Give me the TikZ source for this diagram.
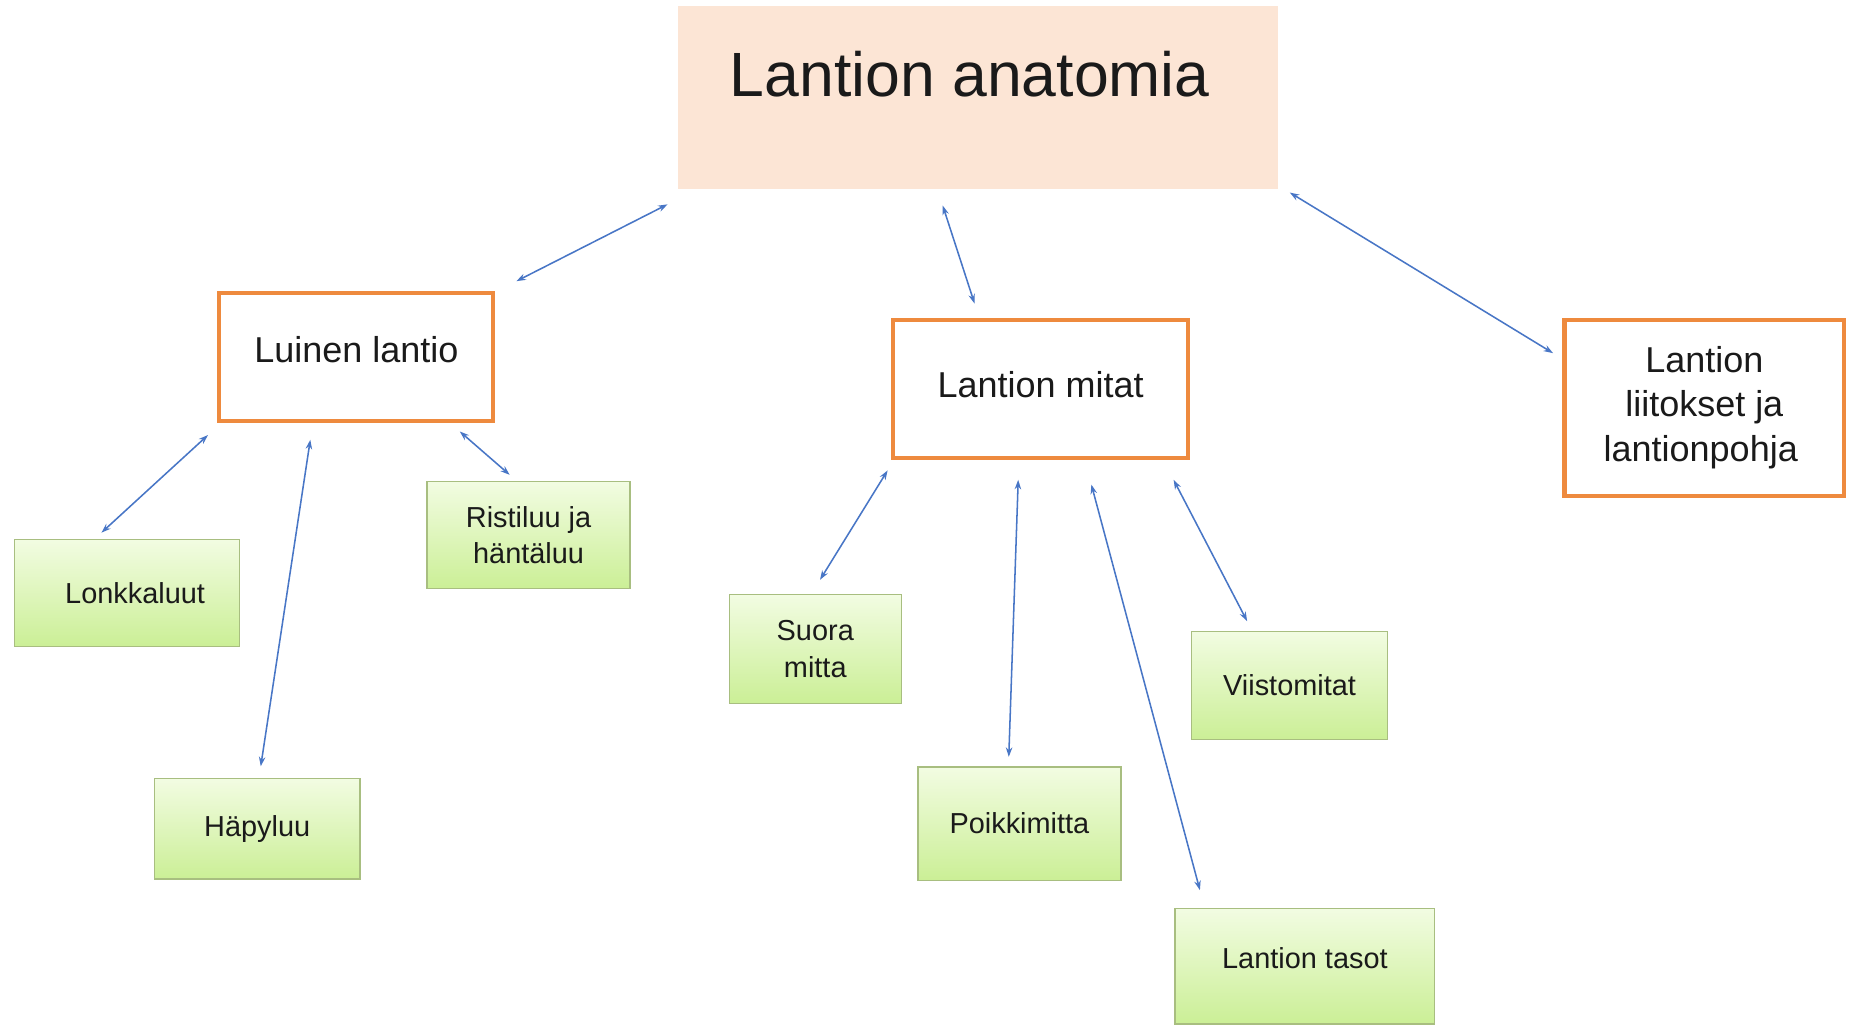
\documentclass[tikz,border=0pt]{standalone}
\usepackage{fontspec}
\setmainfont{Liberation Sans}
\usetikzlibrary{arrows.meta}

\definecolor{peach}{RGB}{252,229,213}
\definecolor{orangeline}{RGB}{238,138,62}
\definecolor{greenline}{RGB}{168,190,128}
\definecolor{greentop}{RGB}{242,252,226}
\definecolor{greenbottom}{RGB}{203,239,150}
\definecolor{linkblue}{RGB}{72,118,198}
\definecolor{ink}{RGB}{26,26,26}

\tikzset{
  headbox/.style={fill=peach, draw=none, minimum width=508pt, minimum height=155pt,
    inner sep=0pt, text=ink, font=\fontsize{53}{60}\selectfont, text depth=40pt},
  topicbox/.style={draw=orangeline, line width=3.4pt, fill=white, inner sep=0pt,
    text=ink, align=center, font=\fontsize{30.5}{37.5}\selectfont},
  leafbox/.style={draw=greenline, line width=1.1pt, top color=greentop, bottom color=greenbottom,
    inner sep=0pt, text=ink, align=center, font=\fontsize{24.5}{31}\selectfont},
  link/.style={draw=linkblue, line width=1.3pt, {Stealth[length=8pt,width=5.5pt]}-{Stealth[length=8pt,width=5.5pt]}}
}

\begin{document}
\begin{tikzpicture}[x=1pt, y=-1pt]
  \useasboundingbox[fill=white] (0,0) rectangle (1568,868);

  % main heading
  \node[headbox] (title) at (829,82.5) {Lantion anatomia\hspace*{14pt}};

  % second level topics
  \node[topicbox, minimum width=232pt, minimum height=109pt, text depth=12pt] (luinen) at (302,302.5) {Luinen lantio};
  \node[topicbox, minimum width=250pt, minimum height=117pt, text depth=7pt] (mitat) at (882,329.5) {Lantion mitat};
  \node[topicbox, minimum width=237pt, minimum height=149pt] (liitokset) at (1444.5,345.5) {Lantion\\liitokset ja\\lantionpohja\hspace*{6pt}};

  % leaves of the bony pelvis
  \node[leafbox, minimum width=191pt, minimum height=91pt] (lonkka) at (107.5,502.5) {\hspace*{14pt}Lonkkaluut};
  \node[leafbox, minimum width=174pt, minimum height=85pt] (hapy) at (218,702.5) {Häpyluu};
  \node[leafbox, minimum width=172pt, minimum height=91pt] (risti) at (448,453.5) {Ristiluu ja\\häntäluu};

  % leaves of the pelvic measures
  \node[leafbox, minimum width=146pt, minimum height=92pt] (suora) at (691,550) {Suora\\mitta};
  \node[leafbox, minimum width=172pt, minimum height=96pt] (poikki) at (864,698) {Poikkimitta};
  \node[leafbox, minimum width=166pt, minimum height=92pt] (viisto) at (1093,581) {Viistomitat};
  \node[leafbox, minimum width=220pt, minimum height=98pt, text depth=14pt] (tasot) at (1106,819) {Lantion tasot};

  % connectors from the heading
  \draw[link] ([shift={(-9,13)}]title.south west) -- ([shift={(18,-8)}]luinen.north east);
  \draw[link] ([shift={(-30,14)}]title.south) -- ([shift={(-56,-12)}]mitat.north);
  \draw[link] ([shift={(10,3)}]title.south east) -- ([shift={(-8,30)}]liitokset.north west);

  % connectors of the bony pelvis
  \draw[link] ([shift={(-8,10)}]luinen.south west) -- ([shift={(-21.5,-5)}]lonkka.north);
  \draw[link] ([shift={(-39,14)}]luinen.south) -- ([shift={(3,-10)}]hapy.north);
  \draw[link] ([shift={(-30,7)}]luinen.south east) -- ([shift={(-16,-5)}]risti.north);

  % connectors of the pelvic measures
  \draw[link] ([shift={(-3,9)}]mitat.south west) -- ([shift={(4,-12)}]suora.north);
  \draw[link] ([shift={(-19,17)}]mitat.south) -- ([shift={(-9,-8)}]poikki.north);
  \draw[link] ([shift={(43,21)}]mitat.south) -- ([shift={(-89,-15)}]tasot.north);
  \draw[link] ([shift={(-14,17)}]mitat.south east) -- ([shift={(-36,-8)}]viisto.north);
\end{tikzpicture}
\end{document}
